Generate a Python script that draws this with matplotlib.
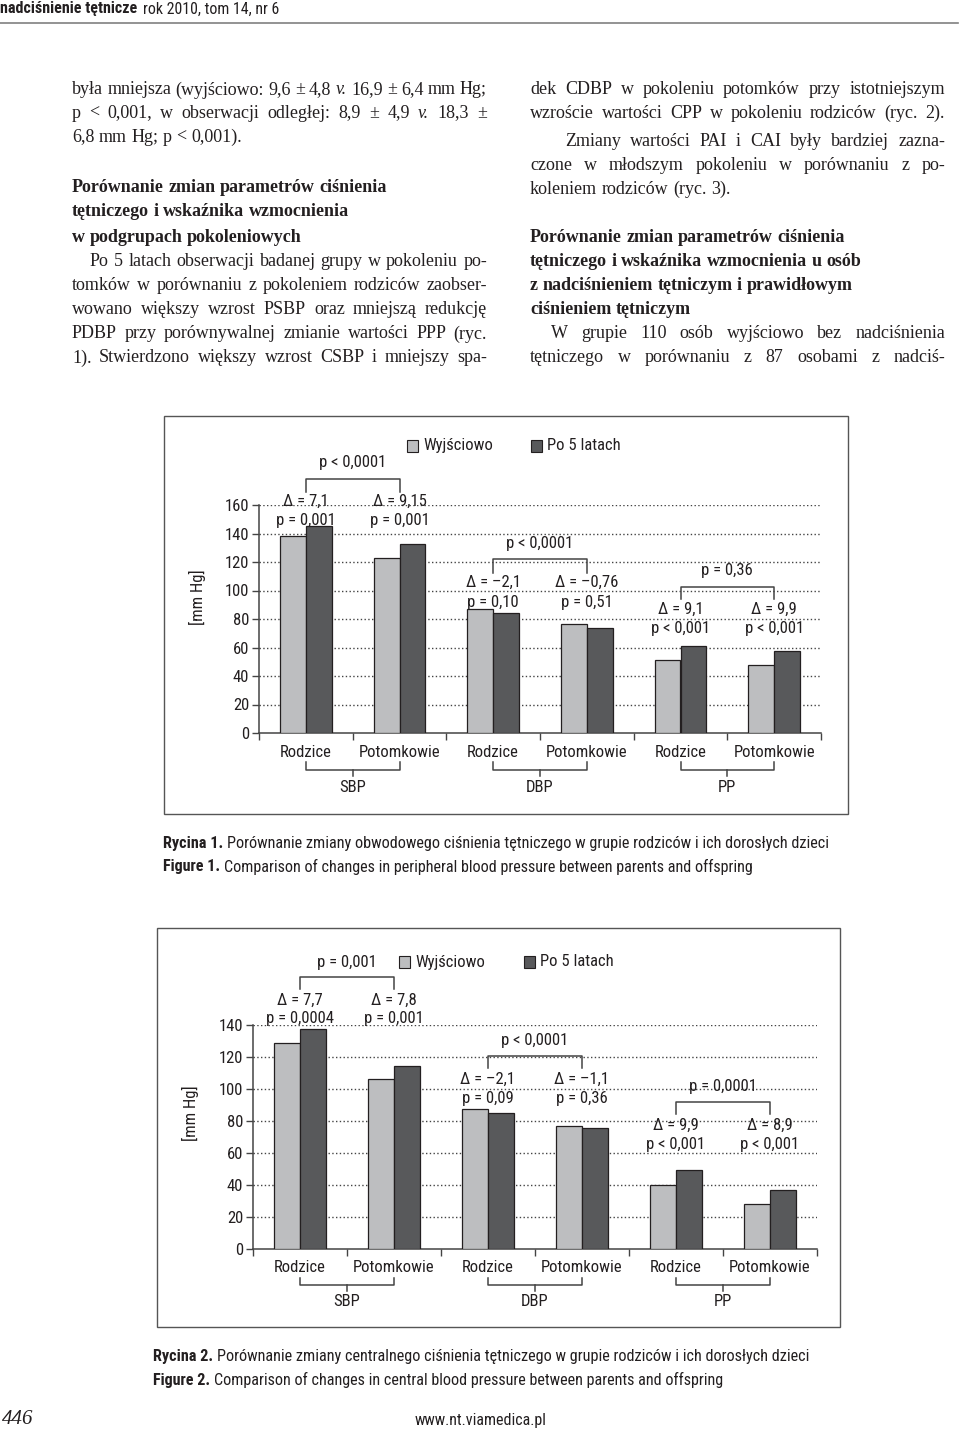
import numpy as np
import matplotlib
matplotlib.use('Agg')
import matplotlib.pyplot as plt
from matplotlib import transforms, font_manager
from matplotlib.patches import Rectangle

# Data
categories = ['Rodzice', 'Potomkowie', 'Rodzice', 'Potomkowie', 'Rodzice', 'Potomkowie']
groups = ['SBP', 'DBP', 'PP']
series = ['Wyjściowo', 'Po 5 latach']

fig1_base = [138.3, 122.8, 86.9, 76.2, 51.4, 47.5]
fig1_after = [145.5, 132.3, 84.2, 73.9, 60.8, 57.3]
fig1_delta = ['Δ = 7,1', 'Δ = 9,15', 'Δ = –2,1', 'Δ = –0,76', 'Δ = 9,1', 'Δ = 9,9']
fig1_pin = ['p = 0,001', 'p = 0,001', 'p = 0,10', 'p = 0,51', 'p < 0,001', 'p < 0,001']
fig1_pbetween = ['p < 0,0001', 'p < 0,0001', 'p = 0,36']

fig2_base = [129.0, 106.3, 87.5, 76.9, 40.2, 27.9]
fig2_after = [137.5, 114.4, 85.3, 75.6, 49.5, 36.7]
fig2_delta = ['Δ = 7,7', 'Δ = 7,8', 'Δ = –2,1', 'Δ = –1,1', 'Δ = 9,9', 'Δ = 8,9']
fig2_pin = ['p = 0,0004', 'p = 0,001', 'p = 0,09', 'p = 0,36', 'p < 0,001', 'p < 0,001']
fig2_pbetween = ['p = 0,001', 'p < 0,0001', 'p = 0,0001']

W, H = 960, 1431
SERIF = ['Liberation Serif', 'DejaVu Serif']
INK = '#231f20'
LIGHT = '#bdbec0'
DARK = '#58595b'


def pick_narrow():
    # look for a narrow sans; otherwise fall back to Liberation Sans at a smaller size
    for fam in ['Liberation Sans Narrow', 'Arial Narrow', 'Roboto Condensed', 'Open Sans Condensed',
                'Noto Sans Condensed', 'DejaVu Sans Condensed']:
        try:
            font_manager.findfont(font_manager.FontProperties(family=fam), fallback_to_default=False)
            return fam, 'normal', 12
        except ValueError:
            pass
    for f in font_manager.fontManager.ttflist:
        if f.name in ('DejaVu Sans', 'Noto Sans', 'Open Sans') and f.stretch in ('condensed', 'semi-condensed') \
                and f.style == 'normal':
            return f.name, f.stretch, 12
    return 'Liberation Sans', 'normal', 10.5


NARROW, STRETCH, CSIZE = pick_narrow()
SANS = [NARROW, 'DejaVu Sans']

fig = plt.figure(figsize=(W / 100, H / 100), dpi=100)
fig.patch.set_facecolor('white')
rend = fig.canvas.get_renderer()


def fx(x):
    return x / W


def fy(y):
    return 1 - y / H


def ftext(x, y, s, **kw):
    kw.setdefault('color', INK)
    kw.setdefault('va', 'center')
    return fig.text(fx(x), fy(y), s, **kw)


def stext(x, y, s, **kw):
    kw.setdefault('family', SANS)
    kw.setdefault('stretch', STRETCH)
    return ftext(x, y, s, **kw)


def width_of(t):
    return t.get_window_extent(rend).width


def para_line(x0, x1, y, s, size=13, weight='normal', justify=True):
    words = s.split(' ')
    arts = []
    for w in words:
        st = 'italic' if w == 'v.' else 'normal'
        arts.append(ftext(x0, y, w, family=SERIF, size=size, weight=weight, style=st))
    widths = [width_of(a) for a in arts]
    gap = size * 1.389 * 0.25
    if justify and len(words) > 1:
        gap = (x1 - x0 - sum(widths)) / (len(words) - 1)
    x = x0
    for a, w in zip(arts, widths):
        a.set_x(fx(x))
        x += w + gap


def fit_text(x0, x1, y, s, size, **kw):
    # sans text scaled so that it spans x0..x1
    t = stext(x0, y, s, size=size, **kw)
    t.set_size(size * (x1 - x0) / width_of(t))
    return t


def two_part(x0, x1, y, bold, rest, size):
    # bold lead-in + regular text, sized so that the whole line ends at x1
    a = stext(x0, y, bold, size=size, weight='bold')
    b = stext(x0, y, rest, size=size)
    gap = 4
    tot = width_of(a) + gap + width_of(b)
    k = (x1 - x0) / tot
    a.set_size(size * k)
    b.set_size(size * k)
    b.set_x(fx(x0 + width_of(a) + gap * k))


# header
fit_text(0, 138, 9, 'nadciśnienie tętnicze', 11, weight='bold')
fit_text(143, 280, 9, 'rok 2010, tom 14, nr 6', 11)
fig.add_artist(plt.Line2D([0, fx(958)], [fy(23), fy(23)], color='#808080', lw=1.2))

# left column
L0, L1 = 72, 487
para_line(L0, L1, 90, 'była mniejsza (wyjściowo: 9,6 ± 4,8 v. 16,9 ± 6,4 mm Hg;')
para_line(L0, L1, 113, 'p < 0,001, w obserwacji odległej: 8,9 ± 4,9 v. 18,3 ±')
para_line(L0, L1, 137, '6,8 mm Hg; p < 0,001).', justify=False)
para_line(L0, L1, 188, 'Porównanie zmian parametrów ciśnienia', weight='bold', justify=False)
para_line(L0, L1, 212, 'tętniczego i wskaźnika wzmocnienia', weight='bold', justify=False)
para_line(L0, L1, 237, 'w podgrupach pokoleniowych', weight='bold', justify=False)
para_line(90, L1, 261, 'Po 5 latach obserwacji badanej grupy w pokoleniu po-')
para_line(L0, L1, 286, 'tomków w porównaniu z pokoleniem rodziców zaobser-')
para_line(L0, L1, 310, 'wowano większy wzrost PSBP oraz mniejszą redukcję')
para_line(L0, L1, 334, 'PDBP przy porównywalnej zmianie wartości PPP (ryc.')
para_line(L0, L1, 358, '1). Stwierdzono większy wzrost CSBP i mniejszy spa-')

# right column
R0, R1 = 530, 945
para_line(R0, R1, 90, 'dek CDBP w pokoleniu potomków przy istotniejszym')
para_line(R0, R1, 113, 'wzroście wartości CPP w pokoleniu rodziców (ryc. 2).')
para_line(565, R1, 141, 'Zmiany wartości PAI i CAI były bardziej zazna-')
para_line(R0, R1, 165, 'czone w młodszym pokoleniu w porównaniu z po-')
para_line(R0, R1, 189, 'koleniem rodziców (ryc. 3).', justify=False)
para_line(R0, R1, 237, 'Porównanie zmian parametrów ciśnienia', weight='bold', justify=False)
para_line(R0, R1, 261, 'tętniczego i wskaźnika wzmocnienia u osób', weight='bold', justify=False)
para_line(R0, R1, 286, 'z nadciśnieniem tętniczym i prawidłowym', weight='bold', justify=False)
para_line(R0, R1, 310, 'ciśnieniem tętniczym', weight='bold', justify=False)
para_line(551, R1, 334, 'W grupie 110 osób wyjściowo bez nadciśnienia')
para_line(R0, R1, 358, 'tętniczego w porównaniu z 87 osobami z nadciś-')


def draw_chart(axpx, frame, ymax, base, after, deltas, pins, pbetw, rows, leg, ylab, under):
    x0, x1, ytop, ybot = axpx
    fig.add_artist(Rectangle((fx(frame[0]), fy(frame[3])), (frame[1] - frame[0]) / W,
                             (frame[3] - frame[2]) / H, transform=fig.transFigure,
                             fill=False, edgecolor='#555555', lw=1))
    ax = fig.add_axes([fx(x0), fy(ybot), (x1 - x0) / W, (ybot - ytop) / H])
    centers = np.arange(len(categories)) + 0.5
    bw = 0.275
    ax.bar(centers - bw / 2, base, bw, color=LIGHT, edgecolor=INK, lw=0.9, zorder=3)
    ax.bar(centers + bw / 2, after, bw, color=DARK, edgecolor=INK, lw=0.9, zorder=3)
    ax.set_xlim(0, len(categories))
    ax.set_ylim(0, ymax)
    yt = np.arange(0, ymax + 1, 20)
    ax.set_yticks(yt)
    for v in yt[1:]:
        ax.axhline(v, color='#444444', ls=(0, (1, 1.7)), lw=1, zorder=1)
    for s in ['top', 'right']:
        ax.spines[s].set_visible(False)
    for s in ['left', 'bottom']:
        ax.spines[s].set_color('#444444')
        ax.spines[s].set_linewidth(1.1)
    ax.set_xticks(np.arange(0, len(categories) + 1))
    ax.set_xticklabels([])
    ax.tick_params(axis='both', length=5, color='#444444', width=1)
    ax.tick_params(axis='y', labelsize=CSIZE, labelcolor=INK, pad=2)
    for lab in ax.get_yticklabels():
        lab.set_family(SANS)
        lab.set_stretch(STRETCH)
    ax.set_facecolor('none')

    tr = transforms.blended_transform_factory(ax.transData, fig.transFigure)
    txt = dict(family=SANS, stretch=STRETCH, size=CSIZE, color=INK, ha='center', va='center',
               transform=tr)
    for g in range(len(groups)):
        c0, c1 = centers[2 * g], centers[2 * g + 1]
        yp, yb, yl, yd, ypp = rows[g]
        ax.text((c0 + c1) / 2, fy(yp), pbetw[g], **txt)
        ax.plot([c0, c0, c1, c1], [fy(yl), fy(yb), fy(yb), fy(yl)], color='#444444',
                lw=1.1, transform=tr, clip_on=False)
        for c, i in ((c0, 2 * g), (c1, 2 * g + 1)):
            ax.text(c, fy(yd), deltas[i], **txt)
            ax.text(c, fy(ypp), pins[i], **txt)
        # labels under the axis
        ylab_y, ybr, yleg, ymid, ygrp = under
        ax.text(c0, fy(ylab_y), categories[2 * g], **txt)
        ax.text(c1, fy(ylab_y), categories[2 * g + 1], **txt)
        ax.plot([c0, c0, c1, c1], [fy(yleg), fy(ybr), fy(ybr), fy(yleg)], color='#444444',
                lw=1.1, transform=tr, clip_on=False)
        m = (c0 + c1) / 2
        ax.plot([m, m], [fy(ybr), fy(ymid)], color='#444444', lw=1.1, transform=tr, clip_on=False)
        ax.text(m, fy(ygrp), groups[g], **txt)

    # legend squares
    ly, lx_light, lx_dark = leg
    for lx, col, name in ((lx_light, LIGHT, series[0]), (lx_dark, DARK, series[1])):
        fig.add_artist(Rectangle((fx(lx), fy(ly + 6)), 11 / W, 12 / H, transform=fig.transFigure,
                                 facecolor=col, edgecolor=INK, lw=0.8))
        stext(lx + 16, ly, name, size=CSIZE)

    stext(ylab[0], ylab[1], '[mm Hg]', size=CSIZE, rotation=90, ha='center')
    return ax


draw_chart((259, 821, 505, 733), (164, 848, 416, 814), 160,
           fig1_base, fig1_after, fig1_delta, fig1_pin, fig1_pbetween,
           [(462, 479, 492, 501, 520), (543, 559, 573, 582, 602), (571, 587, 599, 609, 628)],
           (446, 407, 531), (197, 597), (753, 770, 762, 776, 787))

draw_chart((253, 817, 1025, 1249), (157, 840, 928, 1327), 140,
           fig2_base, fig2_after, fig2_delta, fig2_pin, fig2_pbetween,
           [(962, 977, 989, 1000, 1019), (1040, 1056, 1068, 1079, 1098), (1087, 1102, 1114, 1125, 1144)],
           (962, 399, 524), (190, 1113), (1268, 1285, 1278, 1291, 1302))

# captions
two_part(163, 832, 843, 'Rycina 1.', 'Porównanie zmiany obwodowego ciśnienia tętniczego w grupie rodziców i ich dorosłych dzieci', 11.5)
two_part(163, 754, 867, 'Figure 1.', 'Comparison of changes in peripheral blood pressure between parents and offspring', 11.5)
two_part(153, 810, 1356, 'Rycina 2.', 'Porównanie zmiany centralnego ciśnienia tętniczego w grupie rodziców i ich dorosłych dzieci', 11.5)
two_part(153, 725, 1380, 'Figure 2.', 'Comparison of changes in central blood pressure between parents and offspring', 11.5)

ftext(2, 1420, '446', family=SERIF, size=15, style='italic')
stext(481, 1420, 'www.nt.viamedica.pl', size=CSIZE - 0.5, ha='center')

fig.savefig('out.png', dpi=100, facecolor='white')
